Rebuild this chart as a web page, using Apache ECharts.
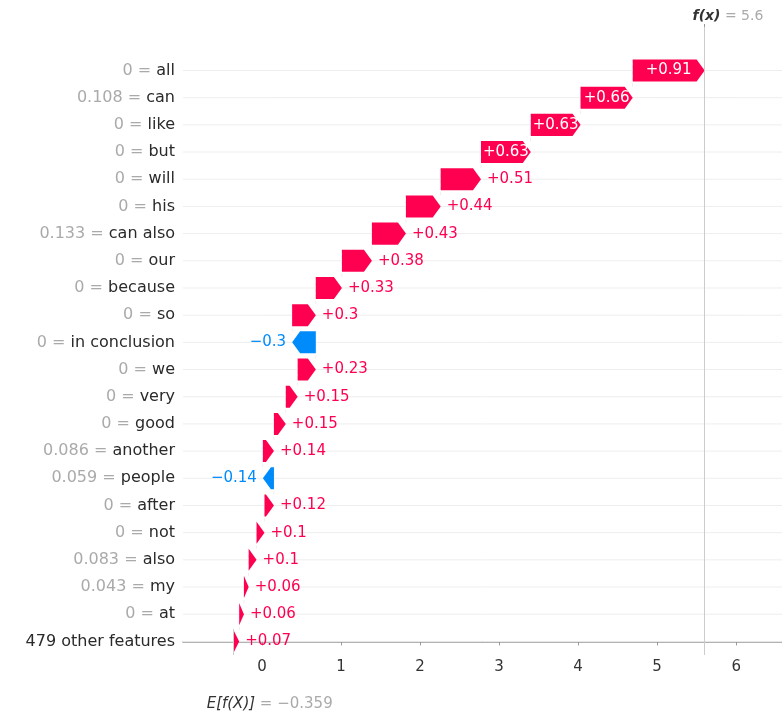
<!DOCTYPE html>
<html lang="en">
<head>
  <meta charset="UTF-8">
  <title>SHAP waterfall</title>
  <script src="https://cdn.jsdelivr.net/npm/echarts@6/dist/echarts.min.js"></script>
  <style>
    html, body { margin: 0; padding: 0; background: #fff; }
    #main { width: 782px; height: 714px; }
  </style>
</head>
<body>
  <div id="main"></div>
  <script>
  // top row first
  const features = ['all', 'can', 'like', 'but', 'will', 'his', 'can also', 'our', 'because', 'so',
    'in conclusion', 'we', 'very', 'good', 'another', 'people', 'after', 'not', 'also', 'my', 'at',
    '479 other features'];
  const featureValues = ['0', '0.108', '0', '0', '0', '0', '0.133', '0', '0', '0',
    '0', '0', '0', '0', '0.086', '0.059', '0', '0', '0.083', '0.043', '0', null];
  const shapValues = [0.91, 0.66, 0.63, 0.63, 0.51, 0.44, 0.43, 0.38, 0.33, 0.3,
    -0.3, 0.23, 0.15, 0.15, 0.14, -0.14, 0.12, 0.1, 0.1, 0.06, 0.06, 0.07];
  const baseValue = -0.359;
  const fxValue = 5.6;
  const xTicks = [0, 1, 2, 3, 4, 5, 6];

  const RED = '#ff0051';
  const BLUE = '#008bfb';
  const FONT = 'DejaVu Sans';
  const FS = 15;
  const n = features.length;

  // waterfall: accumulate from the bottom row up
  const data = [];
  let pos = baseValue;
  for (let i = n - 1; i >= 0; i--) {
    const start = pos;
    pos += shapValues[i];
    data.push([n - 1 - i, start, pos, shapValues[i]]);
  }

  function fmt(v) {
    return (v >= 0 ? '+' : '\u2212') + String(Math.abs(v));
  }

  const chart = echarts.init(document.getElementById('main'));

  function renderItem(params, api) {
    const yv = api.value(0);
    const s = api.value(1), e = api.value(2), v = api.value(3);
    const p0 = api.coord([s, yv]);
    const p1 = api.coord([e, yv]);
    const rowH = api.size([0, 1])[1];
    const h = rowH * 0.81;
    const y = p0[1];
    const x0 = p0[0], x1 = p1[0];
    const len = Math.abs(x1 - x0);
    const head = Math.min(8, len);
    const cs = params.coordSys;
    const color = v >= 0 ? RED : BLUE;
    const d = v >= 0 ? 1 : -1;
    const children = [];

    // faint row guide
    children.push({
      type: 'line', silent: true, z2: 0,
      shape: { x1: cs.x, y1: y, x2: cs.x + cs.width, y2: y },
      style: { stroke: '#eeeeee', lineWidth: 1 }
    });
    // connector to the bar below
    if (yv > 0) {
      children.push({
        type: 'line', silent: true, z2: 1,
        shape: { x1: x0, y1: y - h / 2, x2: x0, y2: y + rowH - h / 2 },
        style: { stroke: '#dddddd', lineWidth: 0.5, lineDash: [3, 3] }
      });
    }
    children.push({
      type: 'polygon', z2: 2,
      shape: {
        points: [
          [x0, y - h / 2], [x1 - d * head, y - h / 2], [x1, y],
          [x1 - d * head, y + h / 2], [x0, y + h / 2]
        ]
      },
      style: { fill: color }
    });
    if (len > 45) {
      children.push({
        type: 'text', z2: 3,
        style: {
          x: (x0 + x1) / 2, y: y, text: fmt(v),
          fill: '#fff', font: FS + 'px ' + FONT, align: 'center', verticalAlign: 'middle'
        }
      });
    } else {
      children.push({
        type: 'text', z2: 3,
        style: {
          x: x1 + d * 6, y: y, text: fmt(v),
          fill: color, font: FS + 'px ' + FONT,
          align: v >= 0 ? 'left' : 'right', verticalAlign: 'middle'
        }
      });
    }
    return { type: 'group', children: children };
  }

  const yLabelValues = [];
  for (let k = 0; k < n; k++) yLabelValues.push(k);

  chart.setOption({
    animation: false,
    textStyle: { fontFamily: FONT },
    grid: { left: 183, right: 0, top: 27, bottom: 59 },
    xAxis: [{
      type: 'value', min: -1, max: 6.58, position: 'bottom',
      axisLine: { show: true, lineStyle: { color: '#999', width: 1.5 } },
      axisTick: { show: true, customValues: [baseValue].concat(xTicks, [fxValue]), length: 4, lineStyle: { color: '#999' } },
      axisLabel: { customValues: xTicks, color: '#333', fontSize: FS, fontFamily: FONT, margin: 5 },
      splitLine: { show: false }
    }, {
      type: 'value', min: -1, max: 6.58, position: 'top',
      axisLine: { show: false },
      axisTick: { show: true, customValues: [fxValue], length: 3, lineStyle: { color: '#999' } },
      axisLabel: { show: false, customValues: [fxValue] },
      splitLine: { show: false }
    }],
    yAxis: {
      type: 'value', min: -0.5, max: 22.6,
      axisLine: { show: false }, axisTick: { show: false }, splitLine: { show: false },
      axisLabel: {
        customValues: yLabelValues, margin: 8, fontSize: 16, fontFamily: FONT,
        formatter: function (val) {
          const i = n - 1 - Math.round(val);
          if (featureValues[i] === null) return '{f|' + features[i] + '}';
          return '{v|' + featureValues[i] + ' = }{f|' + features[i] + '}';
        },
        rich: {
          v: { color: '#aaa', fontSize: 16, fontFamily: FONT },
          f: { color: '#2a2a2a', fontSize: 16, fontFamily: FONT }
        }
      }
    },
    series: [{
      type: 'custom',
      renderItem: renderItem,
      encode: { x: [1, 2], y: 0 },
      data: data,
      markLine: {
        silent: true, symbol: 'none', label: { show: false },
        lineStyle: { color: '#cccccc', width: 1, type: 'solid' },
        data: [
          [{ coord: [fxValue, -0.5] }, { coord: [fxValue, 22.6] }],
          [{ coord: [baseValue, -0.5] }, { coord: [baseValue, 0.45] }]
        ]
      }
    }]
  });

  const topPt = chart.convertToPixel({ gridIndex: 0 }, [fxValue, 22.6]);
  const botPt = chart.convertToPixel({ gridIndex: 0 }, [baseValue, -0.5]);
  chart.setOption({
    graphic: [{
      type: 'text', left: topPt[0] - 12, top: topPt[1] - 18,
      style: {
        text: '{i|f(x)}{g| = 5.6}',
        rich: {
          i: { fontStyle: 'italic', fontWeight: 'bold', fill: '#333', fontSize: 14, fontFamily: FONT },
          g: { fill: '#aaa', fontSize: 14, fontFamily: FONT }
        }
      }
    }, {
      type: 'text', left: botPt[0] - 27, top: botPt[1] + 42,
      style: {
        text: '{i|E[f(X)]}{g| = \u22120.359}',
        rich: {
          i: { fontStyle: 'italic', fill: '#333', fontSize: 15, fontFamily: FONT },
          g: { fill: '#aaa', fontSize: 15, fontFamily: FONT }
        }
      }
    }]
  });
  </script>
</body>
</html>
